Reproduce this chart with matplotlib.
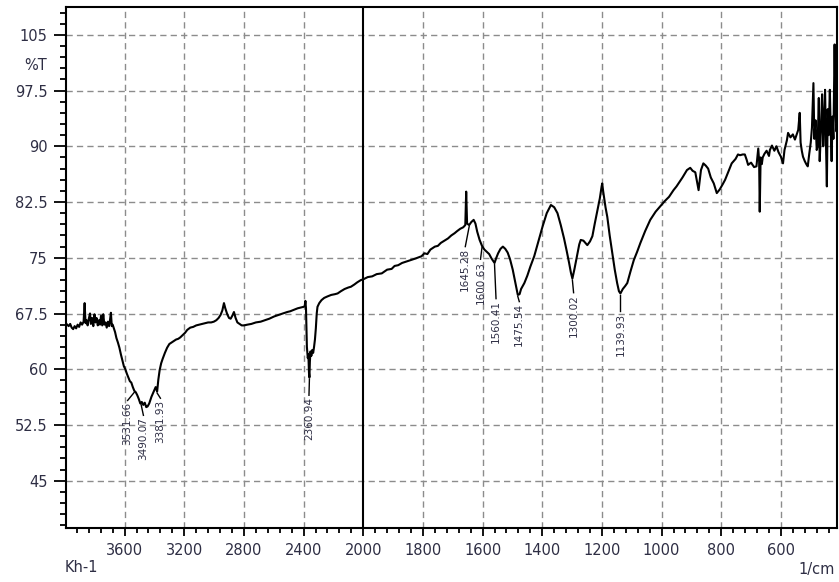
import numpy as np
import matplotlib
matplotlib.use("Agg")
import matplotlib.pyplot as plt
from matplotlib.ticker import FixedLocator, FixedFormatter

# ---------------- data ----------------
wavenumber = [
    3995, 3985, 3975, 3965, 3955, 3945, 3935, 3925, 3915, 3905, 3895, 3885, 3875, 3868, 3862,
    3855, 3848, 3840, 3832, 3826, 3818, 3810, 3802, 3795, 3788, 3780, 3772, 3765, 3758, 3750,
    3743, 3736, 3728, 3720, 3712, 3704, 3698, 3692, 3686, 3680, 3672, 3664, 3655, 3645, 3635,
    3625, 3615, 3605, 3595, 3585, 3575, 3565, 3555, 3545, 3535, 3525, 3515, 3505, 3495, 3485,
    3475, 3465, 3455, 3446, 3435, 3420, 3405, 3392, 3382, 3374, 3365, 3355, 3345, 3330, 3315,
    3300, 3285, 3270, 3255, 3240, 3226, 3210, 3195, 3180, 3160, 3140, 3120, 3100, 3080, 3060,
    3040, 3020, 3002, 2985, 2970, 2957, 2945, 2934, 2925, 2912, 2900, 2889, 2878, 2867, 2856,
    2844, 2830, 2815, 2800, 2777, 2750, 2720, 2688, 2660, 2630, 2598, 2570, 2540, 2510, 2490,
    2464, 2440, 2420, 2400, 2392, 2388, 2384, 2378, 2372, 2368, 2364, 2361, 2358, 2354, 2348,
    2342, 2336, 2330, 2324, 2318, 2312, 2307, 2295, 2280, 2262, 2240, 2215, 2190, 2172, 2150,
    2125, 2100, 2083, 2060, 2040, 2016, 2000,
    1985, 1970, 1955, 1938, 1920, 1905, 1895, 1883, 1870, 1855, 1840, 1825, 1805, 1795, 1785,
    1775, 1760, 1750, 1740, 1728, 1716, 1705, 1694, 1685, 1675, 1665, 1658, 1655, 1652, 1645,
    1638, 1630, 1624, 1618, 1610, 1602, 1594, 1586, 1578, 1570, 1560, 1554, 1548, 1540, 1532,
    1524, 1516, 1508, 1499, 1490, 1482, 1476, 1471, 1460, 1450, 1440, 1427, 1413, 1399, 1385,
    1371, 1360, 1349, 1338, 1327, 1318, 1310, 1304, 1299, 1292, 1282, 1276, 1271, 1262, 1249,
    1240, 1232, 1224, 1215, 1207, 1201, 1199, 1196, 1188, 1182, 1174, 1165, 1157, 1149, 1143,
    1138, 1130, 1122, 1115, 1104, 1093, 1082, 1071, 1055, 1038, 1020, 1005, 990, 975, 960,
    950, 940, 930, 915, 904, 896, 887, 876, 868, 860, 852, 844, 835, 825, 815,
    805, 795, 787, 776, 765, 752, 744, 737, 728, 721, 715, 710, 700, 690, 682,
    678, 676, 673, 671, 668, 664, 661, 655, 648, 640, 637, 630, 622, 615, 608,
    600, 593, 588, 580, 576, 568, 560, 553, 548, 542, 537, 534, 530, 526, 520,
    515, 510, 505, 500, 496, 491, 488, 484, 480, 477, 473, 470, 466, 462, 458,
    455, 452, 449, 446, 443, 440, 436, 433, 430, 427, 424, 420, 417, 414, 412,
]
transmittance = [
    66.2, 66.0, 65.8, 66.1, 65.6, 65.4, 65.8, 65.5, 66.0, 65.7, 66.3, 66.0, 66.4, 68.9, 66.2,
    66.6, 65.9, 66.8, 67.5, 66.1, 66.9, 65.8, 67.4, 66.3, 66.9, 65.9, 66.6, 66.0, 67.2, 65.9,
    67.4, 66.0, 66.3, 65.6, 66.4, 65.8, 66.6, 67.6, 65.8, 66.0, 65.5, 65.0, 64.2, 63.6, 62.9,
    62.0, 61.2, 60.4, 60.0, 59.4, 58.9, 58.4, 58.2, 57.6, 57.1, 56.9, 56.5, 56.0, 55.4, 55.6,
    55.2, 55.5, 54.9, 55.0, 55.4, 56.3, 57.0, 57.6, 57.0, 58.6, 59.9, 60.8, 61.4, 62.2, 62.9,
    63.4, 63.6, 63.8, 64.0, 64.1, 64.3, 64.6, 64.9, 65.3, 65.6, 65.7, 65.9, 66.0, 66.1, 66.2,
    66.3, 66.3, 66.4, 66.6, 66.9, 67.3, 67.9, 68.9, 68.2, 67.4, 66.9, 66.8, 67.2, 67.7, 66.9,
    66.3, 66.1, 65.9, 65.9, 66.0, 66.1, 66.3, 66.4, 66.6, 66.8, 67.1, 67.3, 67.5, 67.7, 67.8,
    68.0, 68.2, 68.3, 68.4, 68.5, 69.2, 68.2, 63.0, 61.5, 62.0, 59.5, 58.9, 61.0, 62.4, 61.8,
    62.6, 62.2, 63.0, 64.0, 65.5, 67.5, 68.4, 68.9, 69.3, 69.6, 69.8, 70.0, 70.1, 70.2, 70.5,
    70.8, 71.0, 71.1, 71.4, 71.7, 72.0, 72.1,
    72.4, 72.5, 72.8, 72.9, 73.4, 73.5, 73.9, 74.0, 74.3, 74.5, 74.7, 74.9, 75.2, 75.6, 75.5,
    76.1, 76.5, 76.6, 77.0, 77.3, 77.6, 78.0, 78.3, 78.6, 78.9, 79.1, 79.4, 83.9, 79.6, 79.4,
    79.8, 80.1, 79.6, 78.5, 77.4, 76.6, 76.1, 75.8, 75.5, 74.9, 74.3, 75.0, 75.6, 76.2, 76.5,
    76.2, 75.7, 74.8, 73.4, 71.6, 70.0, 70.1, 70.8, 71.6, 72.6, 73.8, 75.2, 77.2, 79.2, 81.0,
    82.1, 81.8, 81.0, 79.4, 77.6, 75.9, 74.3, 73.0, 72.2, 73.5, 75.6, 76.8, 77.4, 77.3, 76.7,
    77.2, 77.9, 79.6, 81.4, 83.0, 84.6, 85.0, 84.0, 81.8, 80.5, 78.0, 75.6, 73.4, 71.6, 70.5,
    70.2, 70.8, 71.2, 71.6, 73.2, 74.7, 75.8, 77.0, 78.6, 80.1, 81.2, 81.9, 82.6, 83.2, 84.1,
    84.6, 85.2, 85.8, 86.8, 87.1, 86.7, 86.5, 84.1, 86.8, 87.7, 87.4, 87.0, 85.8, 85.0, 83.7,
    84.2, 84.9, 85.5, 86.6, 87.7, 88.3, 88.9, 88.8, 88.9, 88.9, 88.2, 87.5, 87.8, 87.2, 87.3,
    89.0, 89.7, 88.0, 81.2, 88.5, 87.6, 88.5, 89.0, 89.4, 88.7, 89.5, 90.1, 89.4, 90.0, 89.2,
    88.6, 87.7, 89.5, 90.8, 91.8, 91.2, 91.6, 90.9, 91.5, 92.2, 94.5, 90.5, 89.4, 88.6, 88.0,
    87.6, 87.3, 89.0, 90.5, 92.5, 98.5, 91.0, 93.5, 89.5, 90.0, 96.5, 88.0, 92.0, 97.0, 90.0,
    93.5, 97.6, 90.5, 84.6, 95.0, 91.5, 97.6, 92.0, 88.0, 94.0, 91.0, 103.7, 95.0, 92.0, 93.0,
]

peak_labels = ["3531.66", "3490.07", "3381.93", "2360.94", "1645.28",
               "1600.63", "1560.41", "1475.54", "1300.02", "1139.93"]
peak_wn = [3535, 3490, 3382, 2361, 1645, 1602, 1560, 1482, 1299, 1138]
# where each label's text starts (centre wavenumber, top %T)
label_wn = [3580, 3474, 3360, 2364, 1658, 1607, 1555, 1477, 1295, 1138]
label_top = [55.6, 53.6, 55.9, 56.3, 76.3, 74.6, 69.3, 68.9, 70.1, 67.6]

x_major = [3600, 3200, 2800, 2400, 2000, 1800, 1600, 1400, 1200, 1000, 800, 600]
y_major = [45, 52.5, 60, 67.5, 75, 82.5, 90, 97.5, 105]
y_major_labels = ["45", "52.5", "60", "67.5", "75", "82.5", "90", "97.5", "105"]

# ---------------- scale (2x expanded below 2000 cm-1) ----------------
def fwd(w):
    w = np.asarray(w, dtype=float)
    return np.where(w > 2000, 2000 + (w - 2000) / 2.0, w)

def inv(x):
    x = np.asarray(x, dtype=float)
    return np.where(x > 2000, 2000 + (x - 2000) * 2.0, x)

TXT = "#2e2e44"
FS = 10.5

fig = plt.figure(figsize=(8.39, 5.82), dpi=100)
ax = fig.add_axes([65.7 / 839, 1 - 528.3 / 582, (837 - 65.7) / 839, (528.3 - 7.3) / 582])
ax.set_xscale("function", functions=(fwd, inv))
ax.set_xlim(3995, 412)
ax.set_ylim(38.6, 108.7)

# grid
for yv in y_major:
    ax.axhline(yv, color="#8c8c8c", lw=1.0, ls=(0, (4.5, 3)), zorder=1)
for xv in x_major:
    if xv != 2000:
        ax.axvline(xv, color="#8c8c8c", lw=1.0, ls=(0, (4.5, 3)), zorder=1)
ax.axvline(2000, color="black", lw=1.5, zorder=2)

# spectrum
ax.plot(wavenumber, transmittance, color="black", lw=1.5, zorder=3)

# peak labels
wn_arr = np.array(wavenumber)[::-1]
tr_arr = np.array(transmittance)[::-1]
for lab, pw, lw_, lt in zip(peak_labels, peak_wn, label_wn, label_top):
    pt = np.interp(pw, wn_arr, tr_arr)
    ax.plot([pw, lw_], [pt - 0.2, lt + 0.2], color="black", lw=1.0, zorder=3)
    ax.text(lw_, lt, lab, rotation=90, ha="center", va="top",
            fontsize=7.5, color=TXT, zorder=4)

# ticks
ax.xaxis.set_major_locator(FixedLocator(x_major))
ax.xaxis.set_major_formatter(FixedFormatter([str(v) for v in x_major]))
x_minor = list(range(2000, 4001, 80)) + list(range(400, 2001, 40))
ax.xaxis.set_minor_locator(FixedLocator(x_minor))
ax.yaxis.set_major_locator(FixedLocator(y_major))
ax.yaxis.set_major_formatter(FixedFormatter(y_major_labels))
ax.yaxis.set_minor_locator(FixedLocator(list(np.arange(37.5, 109, 1.5))))

ax.tick_params(axis="y", which="major", length=8.6, width=1.3, pad=4.3,
               labelsize=FS, labelcolor=TXT, direction="out")
ax.tick_params(axis="y", which="minor", length=4.0, width=1.3, direction="out")
ax.tick_params(axis="x", which="major", length=6.0, width=1.3, pad=4.5,
               labelsize=FS, labelcolor=TXT, direction="out")
ax.tick_params(axis="x", which="minor", length=3.6, width=1.3, direction="out")

for s in ax.spines.values():
    s.set_linewidth(1.5)
    s.set_color("black")

fig.text(47 / 839, 1 - 66 / 582, "%T", ha="right", va="center", fontsize=FS, color=TXT)
fig.text(65 / 839, 1 - 568 / 582, "Kh-1", ha="left", va="center", fontsize=FS, color=TXT)
fig.text(835 / 839, 1 - 569.5 / 582, "1/cm", ha="right", va="center", fontsize=FS, color=TXT)

fig.savefig("out.png", dpi=100)
